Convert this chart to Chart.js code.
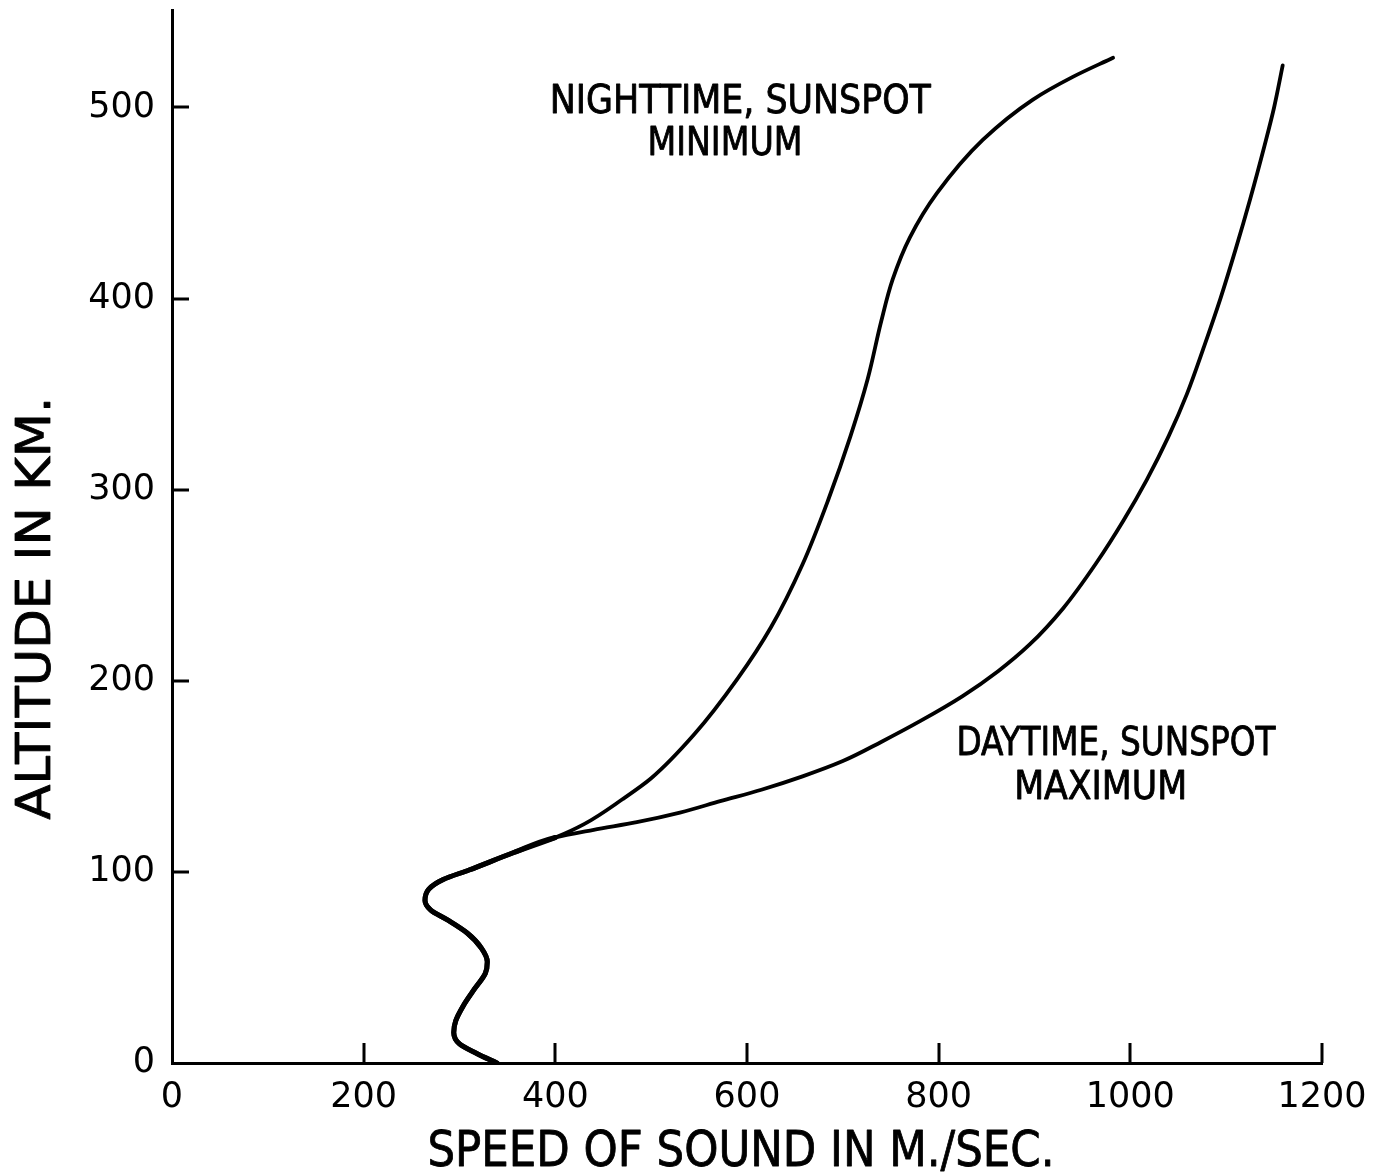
<!DOCTYPE html>
<html>
<head>
<meta charset="utf-8">
<title>Speed of sound versus altitude</title>
<script src="https://cdn.jsdelivr.net/npm/chart.js@4.4.1/dist/chart.umd.min.js"></script>
<style>
  html, body { margin: 0; padding: 0; background: #ffffff; }
  #wrap { width: 1382px; height: 1172px; }
</style>
</head>
<body>
<div id="wrap"><canvas id="c" width="1382" height="1172"></canvas></div>
<script>
// Shared profile below the thermosphere (speed m/s, altitude km)
const lowerSpeed = [339, 318, 300, 294, 296, 304, 316, 327, 329, 323, 308, 287, 270, 264, 268, 283, 310, 356, 400];
const lowerAlt   = [0,   5,   10,  16,  22,  30,  39,  47,  53,  60,  68,  75,  80,  85,  91,  96,  101, 110, 118];

// Nighttime, sunspot minimum (above the shared profile)
const nightSpeed = [430, 470, 500, 545, 590, 625, 658, 685, 708, 726, 740, 752, 770, 798, 846, 898, 940, 982];
const nightAlt   = [125, 138, 149, 172, 201, 228, 261, 295, 328, 358, 388, 410, 432, 455, 483, 504, 516, 526];

// Daytime, sunspot maximum (above the shared profile)
const daySpeed = [440, 485, 530, 572, 615, 658, 700, 740, 781, 825, 862, 895, 930, 965, 993, 1017, 1040, 1059, 1077, 1094, 1110, 1125, 1140, 1150, 1159];
const dayAlt   = [122, 126, 131, 137, 143, 150, 158, 168, 179, 192, 205, 219, 238, 262, 284, 305,  328,  350,  375,  400,  426,  452,  480,  500,  522];

const xTickValues = [0, 200, 400, 600, 800, 1000, 1200];
const yTickValues = [0, 100, 200, 300, 400, 500];

const xTitle = 'SPEED OF SOUND IN M./SEC.';
const yTitle = 'ALTITUDE IN KM.';
const nightLabel = ['NIGHTTIME, SUNSPOT', 'MINIMUM'];
const dayLabel = ['DAYTIME, SUNSPOT', 'MAXIMUM'];

const TICK_FONT = "'DejaVu Sans', sans-serif";
const TEXT_FONT = "'DejaVu Sans Condensed', 'DejaVu Sans', sans-serif";

function toPoints(xs, ys) {
  return xs.map((v, i) => ({ x: v, y: ys[i] }));
}

const nightPoints = toPoints(lowerSpeed.concat(nightSpeed), lowerAlt.concat(nightAlt));
const dayPoints = toPoints(lowerSpeed.concat(daySpeed), lowerAlt.concat(dayAlt));

// Text squeezed horizontally to a set width, like hand lettering
function letter(ctx, text, x, y, size, width, angle) {
  ctx.save();
  ctx.font = size + 'px ' + TEXT_FONT;
  const w = ctx.measureText(text).width;
  ctx.translate(x, y);
  if (angle) ctx.rotate(angle);
  ctx.scale(width / w, 1);
  ctx.fillStyle = '#000';
  ctx.strokeStyle = '#000';
  ctx.lineWidth = 0.8;
  ctx.lineJoin = 'round';
  ctx.textAlign = 'center';
  ctx.textBaseline = 'alphabetic';
  ctx.fillText(text, 0, 0);
  ctx.strokeText(text, 0, 0);
  ctx.restore();
}

// Tick marks that point into the plot area
const innerTicks = {
  id: 'innerTicks',
  afterDraw(chart) {
    const { ctx, chartArea, scales } = chart;
    ctx.save();
    ctx.strokeStyle = '#000';
    ctx.lineWidth = 3;
    ctx.beginPath();
    scales.y.ticks.forEach(t => {
      if (t.value === 0) return;
      const py = Math.round(scales.y.getPixelForValue(t.value));
      ctx.moveTo(chartArea.left, py);
      ctx.lineTo(chartArea.left + 17, py);
    });
    scales.x.ticks.forEach(t => {
      if (t.value === 0) return;
      const px = Math.round(scales.x.getPixelForValue(t.value));
      ctx.moveTo(px, chartArea.bottom);
      ctx.lineTo(px, chartArea.bottom - 20);
    });
    ctx.stroke();
    ctx.restore();
  }
};

// Axis titles and curve captions
const captions = {
  id: 'captions',
  afterDraw(chart) {
    const { ctx, chartArea, scales } = chart;
    const X = v => scales.x.getPixelForValue(v);
    const Y = v => scales.y.getPixelForValue(v);

    letter(ctx, xTitle, chartArea.left + 569, chartArea.bottom + 103, 50, 627, 0);
    letter(ctx, yTitle, chartArea.left - 122, Y(238), 48, 423, -Math.PI / 2);

    letter(ctx, nightLabel[0], X(593), Y(497), 39, 381, 0);
    letter(ctx, nightLabel[1], X(577), Y(475), 39, 155, 0);
    letter(ctx, dayLabel[0], X(985), Y(161), 39, 319, 0);
    letter(ctx, dayLabel[1], X(969), Y(138), 39, 173, 0);
  }
};

const widthByAltitude = ctx => (ctx.p0.parsed.y < 116 ? 5 : 3.8);

function curve(label, points) {
  return {
    label: label,
    data: points,
    borderColor: '#000',
    borderWidth: 3.8,
    borderCapStyle: 'round',
    borderJoinStyle: 'round',
    pointRadius: 0,
    fill: false,
    cubicInterpolationMode: 'monotone',
    segment: { borderWidth: widthByAltitude }
  };
}

new Chart(document.getElementById('c'), {
  type: 'line',
  data: {
    datasets: [
      curve('Nighttime, sunspot minimum', nightPoints),
      curve('Daytime, sunspot maximum', dayPoints)
    ]
  },
  options: {
    indexAxis: 'y',
    responsive: false,
    animation: false,
    devicePixelRatio: 1,
    layout: { padding: { left: 72, right: 60, top: 10, bottom: 0 } },
    plugins: {
      legend: { display: false },
      tooltip: { enabled: false }
    },
    scales: {
      x: {
        type: 'linear',
        position: 'bottom',
        min: 0,
        max: 1200,
        afterFit: s => { s.height = 109; s.paddingLeft = 0; s.paddingRight = 0; },
        afterBuildTicks: s => { s.ticks = xTickValues.map(v => ({ value: v })); },
        grid: { display: false, drawTicks: false },
        border: { display: true, color: '#000', width: 3 },
        ticks: {
          color: '#000',
          padding: 14,
          maxRotation: 0,
          callback: v => String(v),
          font: { family: TICK_FONT, size: 35 }
        }
      },
      y: {
        type: 'linear',
        position: 'left',
        min: 0,
        max: 551,
        afterFit: s => { s.width = 100; s.paddingTop = 0; s.paddingBottom = 0; },
        afterBuildTicks: s => { s.ticks = yTickValues.map(v => ({ value: v })); },
        grid: { display: false, drawTicks: false },
        border: { display: true, color: '#000', width: 3 },
        ticks: {
          color: '#000',
          padding: 17,
          callback: v => String(v),
          font: { family: TICK_FONT, size: 35 }
        }
      }
    }
  },
  plugins: [innerTicks, captions]
});
</script>
</body>
</html>
